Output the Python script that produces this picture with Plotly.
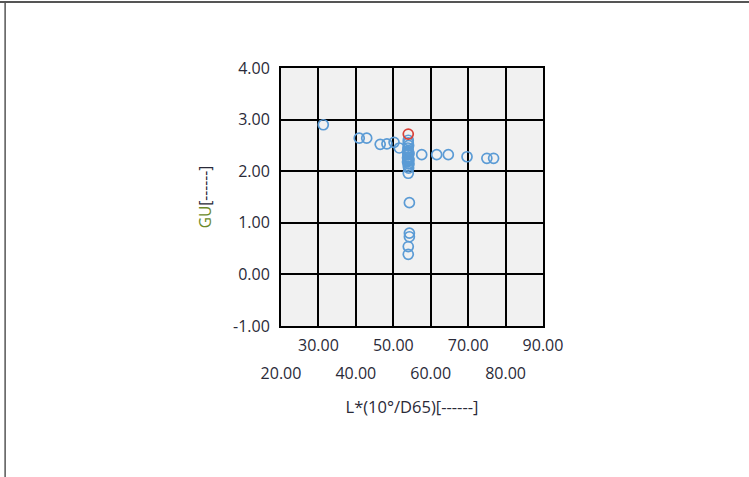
import plotly.graph_objects as go

# Blue (open circle) series: L*(10°/D65) vs GU
blue_L = [31.3, 40.9, 42.9, 46.5, 48.3, 50.2, 51.6,
          54.0, 54.0, 54.1, 53.9, 54.0, 54.1, 53.9, 54.0, 54.1, 53.9, 54.0, 54.0, 54.1,
          53.8, 54.2, 53.8, 54.2, 53.8, 54.2,
          54.0, 54.3, 54.3, 54.3, 54.0, 54.0,
          57.6, 61.6, 64.7, 69.7, 75.0, 76.8]
blue_GU = [2.90, 2.64, 2.64, 2.52, 2.53, 2.56, 2.45,
           2.60, 2.55, 2.50, 2.45, 2.40, 2.36, 2.32, 2.28, 2.24, 2.20, 2.15, 2.10, 2.06,
           2.38, 2.34, 2.26, 2.22, 2.18, 2.14,
           1.96, 1.39, 0.80, 0.73, 0.54, 0.39,
           2.32, 2.32, 2.32, 2.28, 2.25, 2.25]

# Red (highlighted) point
red_L = [54.0]
red_GU = [2.72]

x_major = [30, 50, 70, 90]
x_major_text = ["30.00", "50.00", "70.00", "90.00"]
x_minor = [20, 40, 60, 80]
x_minor_text = ["20.00", "40.00", "60.00", "80.00"]
y_ticks = [-1, 0, 1, 2, 3, 4]
y_text = ["-1.00", "0.00", "1.00", "2.00", "3.00", "4.00"]

fig = go.Figure()
fig.add_trace(go.Scatter(x=blue_L, y=blue_GU, mode="markers",
                         marker=dict(symbol="circle-open", size=10, color="#5b9bd5",
                                     line=dict(width=1.7, color="#5b9bd5")),
                         showlegend=False))
fig.add_trace(go.Scatter(x=red_L, y=red_GU, mode="markers",
                         marker=dict(symbol="circle-open", size=10, color="#d9423a",
                                     line=dict(width=1.7, color="#d9423a")),
                         showlegend=False))
# invisible trace to activate second x axis
fig.add_trace(go.Scatter(x=[20, 90], y=[-1, 4], xaxis="x2", mode="markers",
                         marker=dict(opacity=0), hoverinfo="skip", showlegend=False))

tick_font = dict(family="Open Sans, DejaVu Sans, sans-serif", size=16, color="#2a2a38")

fig.update_layout(
    width=749, height=477,
    margin=dict(l=281, r=206, t=68, b=151),
    paper_bgcolor="white",
    plot_bgcolor="#f1f1f1",
    xaxis=dict(range=[20, 90], tickvals=x_major, ticktext=x_major_text,
               ticks="outside", ticklen=4, tickcolor="rgba(0,0,0,0)",
               tickfont=tick_font,
               showgrid=True, gridcolor="black", gridwidth=2,
               minor=dict(tickvals=x_minor, showgrid=True, gridcolor="black", gridwidth=2),
               showline=True, linecolor="black", linewidth=2, mirror=True,
               zeroline=False,
               title=dict(text="L*(10°/D65)[------]", standoff=46,
                          font=dict(family="Open Sans, DejaVu Sans, sans-serif", size=16.5, color="#2a2a38"))),
    xaxis2=dict(range=[20, 90], overlaying="x", side="bottom", anchor="y",
                tickvals=x_minor, ticktext=x_minor_text,
                ticks="outside", ticklen=33, tickcolor="rgba(0,0,0,0)",
                tickfont=tick_font, showgrid=False, zeroline=False, showline=False),
    yaxis=dict(range=[-1, 4], tickvals=y_ticks, ticktext=y_text,
               ticks="outside", ticklen=6, tickcolor="rgba(0,0,0,0)",
               tickfont=tick_font,
               showgrid=True, gridcolor="black", gridwidth=2,
               showline=True, linecolor="black", linewidth=2, mirror=True,
               zeroline=False,
               title=dict(text="<span style='color:#6b8a2a'>GU</span>[------]", standoff=18,
                          font=dict(family="Open Sans, DejaVu Sans, sans-serif", size=15.5, color="#2a2a38"))),
    shapes=[
        dict(type="line", xref="paper", yref="paper", x0=-1.1, x1=1.9, y0=1.256, y1=1.256,
             line=dict(color="#555555", width=2)),
        dict(type="line", xref="paper", yref="paper", x0=-1.053, x1=-1.053, y0=1.26, y1=-0.6,
             line=dict(color="#555555", width=1.5)),
    ],
)

fig.write_html("out.html", config={"displayModeBar": False},
               post_script="document.body.style.margin='0';")
